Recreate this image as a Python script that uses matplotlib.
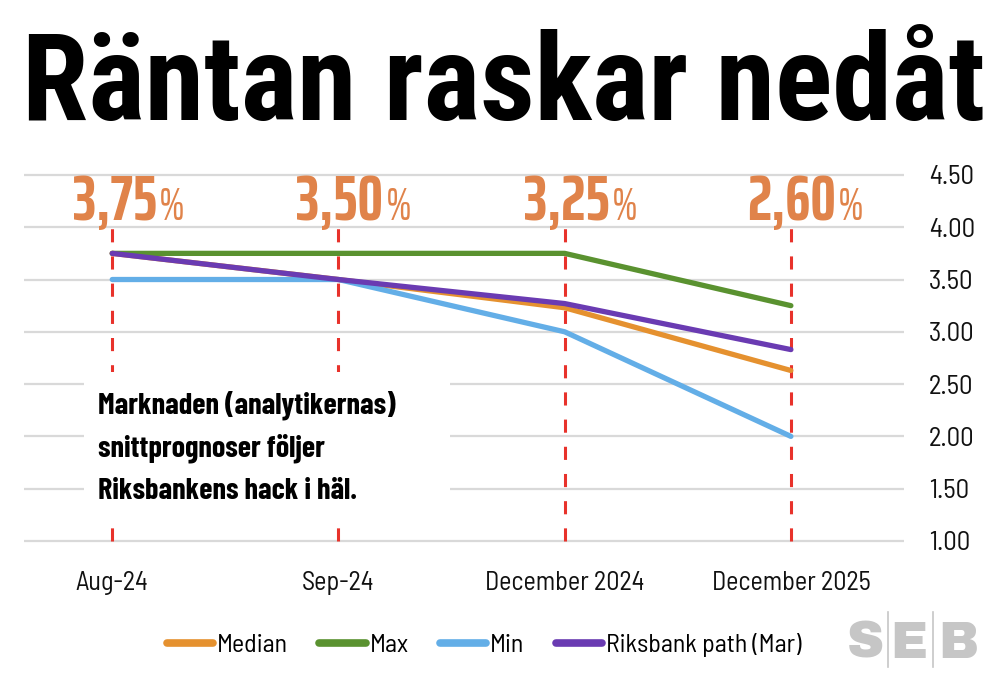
import matplotlib
matplotlib.use("Agg")
import matplotlib.pyplot as plt
from matplotlib.patches import Rectangle
from matplotlib.lines import Line2D

# data
periods = ["Aug-24", "Sep-24", "December 2024", "December 2025"]
median = [3.75, 3.50, 3.23, 2.63]
max_fc = [3.75, 3.75, 3.75, 3.25]
min_fc = [3.50, 3.50, 3.00, 2.00]
riksbank = [3.75, 3.50, 3.27, 2.83]
policy_rate = ["3,75", "3,50", "3,25", "2,60"]
yticks = [1.00, 1.50, 2.00, 2.50, 3.00, 3.50, 4.00, 4.50]

series = [("Median", median, "#E5912F"),
          ("Max", max_fc, "#5A9230"),
          ("Min", min_fc, "#63AEE7"),
          ("Riksbank path (Mar)", riksbank, "#6A3BB2")]

W, H = 1008, 682
TITLE = ["Roboto Condensed", "DejaVu Sans"]
NUM = ["Saira ExtraCondensed", "DejaVu Sans"]
BOLDC = ["Barlow Condensed", "DejaVu Sans"]
REGC = ["Barlow Semi Condensed", "DejaVu Sans"]

fig = plt.figure(figsize=(W / 100, H / 100), dpi=100)
renderer = fig.canvas.get_renderer()


def fit(s, width, **kw):
    # font size that makes s about width pixels wide
    t = fig.text(0, 0, s, fontsize=100, **kw)
    w = t.get_window_extent(renderer).width
    t.remove()
    return 100 * width / w


# plot area: y 0.95..4.55 -> px 546..170, x -0.39..3.5 -> px 24..904
ax = fig.add_axes([24 / W, 1 - 546.2 / H, 880 / W, 376.5 / H])
ax.set_xlim(-0.39, 3.5)
ax.set_ylim(0.95, 4.55)
for sp in ax.spines.values():
    sp.set_visible(False)

x = list(range(len(periods)))
ax.set_yticks(yticks)
ax.set_yticklabels(["%.2f" % v for v in yticks])
ax.yaxis.tick_right()
ax.grid(axis="y", color="#D9D9D9", linewidth=1.6)
ax.set_axisbelow(True)
ax.set_xticks(x)
ax.set_xticklabels(periods)
ax.tick_params(length=0)
ax.tick_params(axis="y", pad=18)
ax.tick_params(axis="x", pad=18)

ysz = fit("4.50", 45, family=REGC)
xsz = fit("December 2024", 160, family=REGC)
for lab in ax.get_yticklabels():
    lab.set_family(REGC)
    lab.set_fontsize(ysz)
    lab.set_color("#111111")
for lab in ax.get_xticklabels():
    lab.set_family(REGC)
    lab.set_fontsize(xsz)
    lab.set_color("#111111")

# red dashed markers for each decision
ax.vlines(x, 1.0, 4.0, colors="#E8322B", linewidth=2.2,
          linestyles=[(0, (4.3, 4.6))], zorder=2)

handles = []
for i, (name, vals, col) in enumerate(series):
    ln, = ax.plot(x, vals, color=col, linewidth=3.8, solid_capstyle="round",
                  zorder=3 + i, label=name)
    handles.append(ln)

# policy rate labels above the dashed lines
nsz = fit("3,75", 84, family=NUM, weight="bold")
psz = 33
for i, lab in enumerate(policy_rate):
    ax.annotate(lab, xy=(i, H - 220), xycoords=("data", "figure pixels"),
                xytext=(45, 0), textcoords="offset pixels", ha="right", va="baseline",
                fontsize=nsz, family=NUM, weight="bold", color="#E0834A",
                annotation_clip=False)
    ax.annotate("%", xy=(i, H - 220), xycoords=("data", "figure pixels"),
                xytext=(47, 0), textcoords="offset pixels", ha="left", va="baseline",
                fontsize=psz, family=NUM, color="#E0834A", annotation_clip=False)

# white box with the comment
fig.add_artist(Rectangle((84 / W, 1 - 518 / H), 366 / W, 146 / H,
                         transform=fig.transFigure, facecolor="white",
                         edgecolor="none", zorder=5))
note = ["Marknaden (analytikernas)", "snittprognoser följer", "Riksbankens hack i häl."]
asz = fit(note[0], 297, family=BOLDC, weight="bold")
for k, line in enumerate(note):
    fig.text(98 / W, 1 - (414 + 42.5 * k) / H, line, ha="left", va="baseline",
             fontsize=asz, family=BOLDC, weight="bold", color="black", zorder=6)

# title
tsz = fit("Räntan raskar nedåt", 963, family=TITLE, weight="black")
fig.text(22 / W, 1 - 120 / H, "Räntan raskar nedåt", ha="left", va="baseline",
         fontsize=tsz, family=TITLE, weight="black", color="black")

# legend
lsz = fit("Riksbank path (Mar)", 196, family=REGC)
leg_handles = [Line2D([], [], color=h.get_color(), linewidth=5.5, solid_capstyle="round")
               for h in handles]
fig.legend(leg_handles, [s[0] for s in series], loc="center",
           bbox_to_anchor=(484 / W, 1 - 645 / H), ncol=4, frameon=False,
           handlelength=1.8, handletextpad=0.15, columnspacing=1.2,
           prop={"family": REGC, "size": lsz})

# SEB logo
for letter, cx in [("S", 865), ("E", 909), ("B", 958)]:
    fig.text(cx / W, 1 - 658 / H, letter, ha="center", va="baseline",
             fontsize=37, family=["Archivo Black", "DejaVu Sans"], color="#C6C6C6")
for sx in [888, 933]:
    fig.add_artist(Line2D([sx / W, sx / W], [1 - 612 / H, 1 - 667 / H],
                          transform=fig.transFigure, color="#C6C6C6", linewidth=1.2))

fig.savefig("out.png", dpi=100)
